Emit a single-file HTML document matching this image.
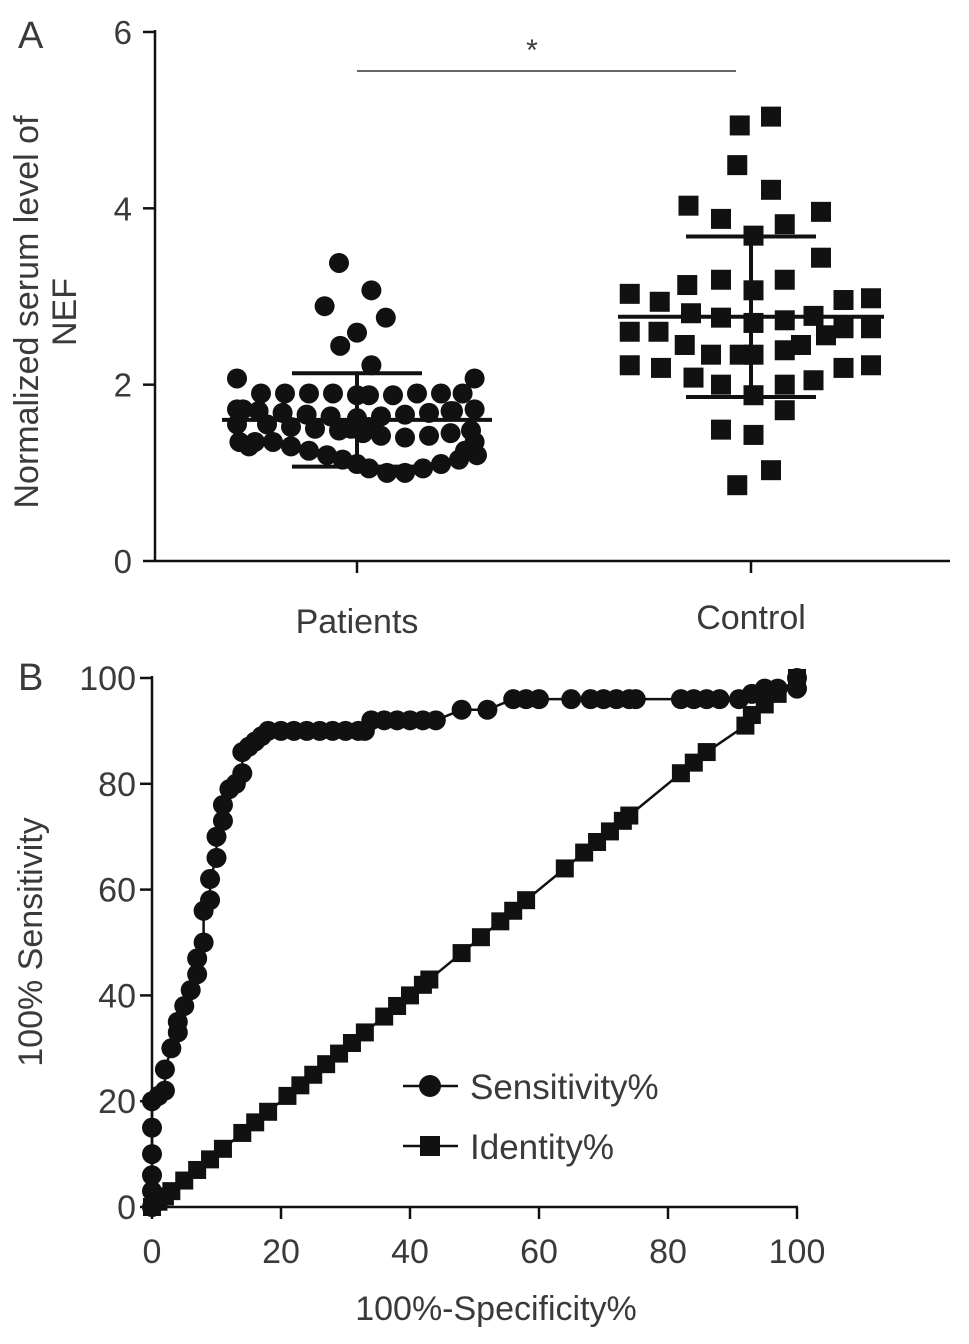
<!DOCTYPE html>
<html><head><meta charset="utf-8"><style>
html,body{margin:0;padding:0;background:#fff;}
svg text{font-family:"Liberation Sans",sans-serif;fill:#3a3a3a;}
</style></head><body>
<svg id="fig" width="969" height="1339" xmlns="http://www.w3.org/2000/svg">
<text x="18" y="48" font-size="38">A</text>
<text x="18" y="690" font-size="38">B</text>
<g id="A"></g>
<g id="B"></g>
</svg>
<script>
// ---- Panel A data ----
const groups = ["Patients", "Control"];
const yTicksA = [0, 2, 4, 6];
const patientVals = [3.38,3.07,2.89,2.76,2.59,2.44,2.22,2.07,2.07,
 1.9,1.9,1.9,1.9,1.88,1.88,1.88,1.9,1.9,1.9,
 1.72,1.72,1.7,1.7,1.68,1.66,1.64,1.62,1.64,1.66,1.68,1.7,1.72,
 1.55,1.52,1.5,1.48,1.45,1.42,1.4,1.42,1.45,1.48,1.5,1.52,1.55,
 1.35,1.35,1.3,1.25,1.2,1.15,1.1,1.05,1.0,1.0,1.05,1.1,1.15,1.2,1.25,1.3,1.35,1.35];
const patientJit = [-0.15,0.12,-0.27,0.24,0,-0.14,0.12,-1.0,0.98,
 -0.8,-0.6,-0.4,-0.2,0,0.1,0.3,0.5,0.7,0.88,
 -1.0,0.98,-0.82,0.8,-0.62,-0.42,-0.22,0,0.2,0.4,0.6,0.78,
 -0.95,-0.75,-0.55,-0.35,-0.15,0.05,0.2,0.4,0.6,0.78,0.95,-0.05,0.1,
 -1.0,-0.85,-0.7,-0.55,-0.4,-0.25,-0.12,0,0.1,0.25,0.4,0.55,0.7,0.85,1.0,0.9,-0.9,0.98,-0.98];
const controlVals = [4.94,5.04,4.49,4.21,4.03,3.88,3.96,3.82,3.69,3.44,3.03,2.94,3.13,3.19,3.19,3.07,2.96,2.98,
 2.81,2.76,2.70,2.73,2.78,2.60,2.60,2.64,2.64,2.45,2.34,2.34,2.34,2.39,2.45,2.56,2.22,2.19,2.19,2.22,
 2.08,2.0,1.88,2.0,2.05,1.71,1.49,1.43,0.86,1.03];
const controlJit = [-0.09,0.16,-0.11,0.16,-0.5,-0.24,0.56,0.27,0.02,0.56,-0.97,-0.73,-0.51,-0.24,0.27,0.02,0.74,0.96,
 -0.48,-0.24,0.02,0.27,0.5,-0.97,-0.74,0.74,0.96,-0.53,-0.32,-0.09,0.02,0.27,0.4,0.6,-0.97,-0.72,0.74,0.96,
 -0.46,-0.24,0.02,0.27,0.5,0.27,-0.24,0.02,-0.11,0.16];
const meanVals = [1.6, 2.77];
const sdVals = [0.53, 0.91];
// ---- Panel B data ----
const xTicksB = [0,20,40,60,80,100];
const yTicksB = [0,20,40,60,80,100];
const sensX = [0,0,0,0,0,0,1,2,2,3,4,4,5,6,7,7,8,8,9,9,10,10,11,11,12,13,14,14,15,16,17,18,20,22,24,26,28,30,32,33,34,36,38,40,42,44,48,52,56,58,60,65,68,70,72,74,75,82,84,86,88,91,93,95,97,100,100];
const sensY = [0,3,6,10,15,20,21,22,26,30,33,35,38,41,44,47,50,56,58,62,66,70,73,76,79,80,82,86,87,88,89,90,90,90,90,90,90,90,90,90,92,92,92,92,92,92,94,94,96,96,96,96,96,96,96,96,96,96,96,96,96,96,97,98,98,98,100];
const idX = [0,1,2,3,5,7,9,11,14,16,18,21,23,25,27,29,31,33,36,38,40,42,43,48,51,54,56,58,64,67,69,71,73,74,82,84,86,92,93,95,97,100];
const idY = [0,1,2,3,5,7,9,11,14,16,18,21,23,25,27,29,31,33,36,38,40,42,43,48,51,54,56,58,64,67,69,71,73,74,82,84,86,91,93,95,97,100];

const NS="http://www.w3.org/2000/svg";
function mk(tag, attrs, parent){const e=document.createElementNS(NS,tag);for(const k in attrs)e.setAttribute(k,attrs[k]);parent.appendChild(e);return e;}

// ---- Panel A ----
const A=document.getElementById('A');
const ayA=v=>561-v*88.17;
const gx=[357,751];
const jitW=[120,125];
mk('line',{x1:155,y1:30,x2:155,y2:562,stroke:'#111','stroke-width':2.5},A);
mk('line',{x1:155,y1:561,x2:950,y2:561,stroke:'#111','stroke-width':2.5},A);
yTicksA.forEach(t=>{
 const l=mk('line',{x1:143,y1:ayA(t),x2:155,y2:ayA(t),stroke:'#111','stroke-width':2.5},A);
 
 const tx=mk('text',{x:132,y:ayA(t)+12,'font-size':33,'text-anchor':'end'},A);tx.textContent=t;
 
});
groups.forEach((g,i)=>{
 const l=mk('line',{x1:gx[i],y1:561,x2:gx[i],y2:573,stroke:'#111','stroke-width':2.5},A);
 
 const tx=mk('text',{x:gx[i],y:i==0?633:629,'font-size':34,'text-anchor':'middle'},A);tx.textContent=g;
 
});
const yt=mk('text',{transform:'translate(38,312) rotate(-90)','font-size':34,'text-anchor':'middle'},A);

const ts1=mk('tspan',{x:0,dy:0},yt);ts1.textContent='Normalized serum level of';
const ts2=mk('tspan',{x:0,dy:38},yt);ts2.textContent='NEF';
patientVals.forEach((v,i)=>{
 const c=mk('circle',{cx:gx[0]+patientJit[i]*jitW[0],cy:ayA(v),r:10,fill:'#111'},A);
 
});
controlVals.forEach((v,i)=>{
 const c=mk('rect',{x:gx[1]+controlJit[i]*jitW[1]-10,y:ayA(v)-10,width:20,height:20,fill:'#111'},A);
 
});
groups.forEach((g,i)=>{
 const m=meanVals[i],s=sdVals[i],w=i==0?135:133,ws=65;
 mk('line',{x1:gx[i]-w,y1:ayA(m),x2:gx[i]+w,y2:ayA(m),stroke:'#111','stroke-width':4},A);
 mk('line',{x1:gx[i],y1:ayA(m+s),x2:gx[i],y2:ayA(m-s),stroke:'#111','stroke-width':4},A);
 mk('line',{x1:gx[i]-ws,y1:ayA(m+s),x2:gx[i]+ws,y2:ayA(m+s),stroke:'#111','stroke-width':4},A);
 mk('line',{x1:gx[i]-ws,y1:ayA(m-s),x2:gx[i]+ws,y2:ayA(m-s),stroke:'#111','stroke-width':4},A);
});
mk('line',{x1:357,y1:71,x2:736,y2:71,stroke:'#333','stroke-width':1.5},A);
const st=mk('text',{x:532,y:60,'font-size':30,'text-anchor':'middle'},A);st.textContent='*';


// ---- Panel B ----
const B=document.getElementById('B');
const bx=v=>152+v*6.45, by=v=>1207-v*5.29;
mk('line',{x1:152,y1:676,x2:152,y2:1208,stroke:'#111','stroke-width':2.5},B);
mk('line',{x1:151,y1:1207,x2:798,y2:1207,stroke:'#111','stroke-width':2.5},B);
yTicksB.forEach(t=>{
 mk('line',{x1:140,y1:by(t),x2:152,y2:by(t),stroke:'#111','stroke-width':2.5},B);
 const tx=mk('text',{x:136,y:by(t)+12,'font-size':34,'text-anchor':'end'},B);tx.textContent=t;
 
});
xTicksB.forEach(t=>{
 mk('line',{x1:bx(t),y1:1207,x2:bx(t),y2:1219,stroke:'#111','stroke-width':2.5},B);
 const tx=mk('text',{x:bx(t),y:1263,'font-size':34,'text-anchor':'middle'},B);tx.textContent=t;
 
});
const xtB=mk('text',{x:496,y:1320,'font-size':34,'text-anchor':'middle'},B);xtB.textContent='100%-Specificity%';

const ytB=mk('text',{transform:'translate(42,942) rotate(-90)','font-size':34,'text-anchor':'middle'},B);ytB.textContent='100% Sensitivity';

const sp=mk('polyline',{points:sensX.map((x,i)=>bx(x)+','+by(sensY[i])).join(' '),fill:'none',stroke:'#111','stroke-width':2.5},B);

const ip=mk('polyline',{points:idX.map((x,i)=>bx(x)+','+by(idY[i])).join(' '),fill:'none',stroke:'#111','stroke-width':2.5},B);

idX.forEach((x,i)=>{
 const r=mk('rect',{x:bx(x)-9,y:by(idY[i])-9,width:18,height:18,fill:'#111'},B);
 
});
sensX.forEach((x,i)=>{
 const c=mk('circle',{cx:bx(x),cy:by(sensY[i]),r:10,fill:'#111'},B);
 
});
// legend
mk('line',{x1:403,y1:1086,x2:458,y2:1086,stroke:'#111','stroke-width':2.5},B);
mk('circle',{cx:430,cy:1086,r:11,fill:'#111'},B);
const l1=mk('text',{x:470,y:1099,'font-size':35},B);l1.textContent='Sensitivity%';

mk('line',{x1:403,y1:1146,x2:458,y2:1146,stroke:'#111','stroke-width':2.5},B);
mk('rect',{x:420,y:1136,width:20,height:20,fill:'#111'},B);
const l2=mk('text',{x:470,y:1159,'font-size':35},B);l2.textContent='Identity%';

</script>
</body></html>
